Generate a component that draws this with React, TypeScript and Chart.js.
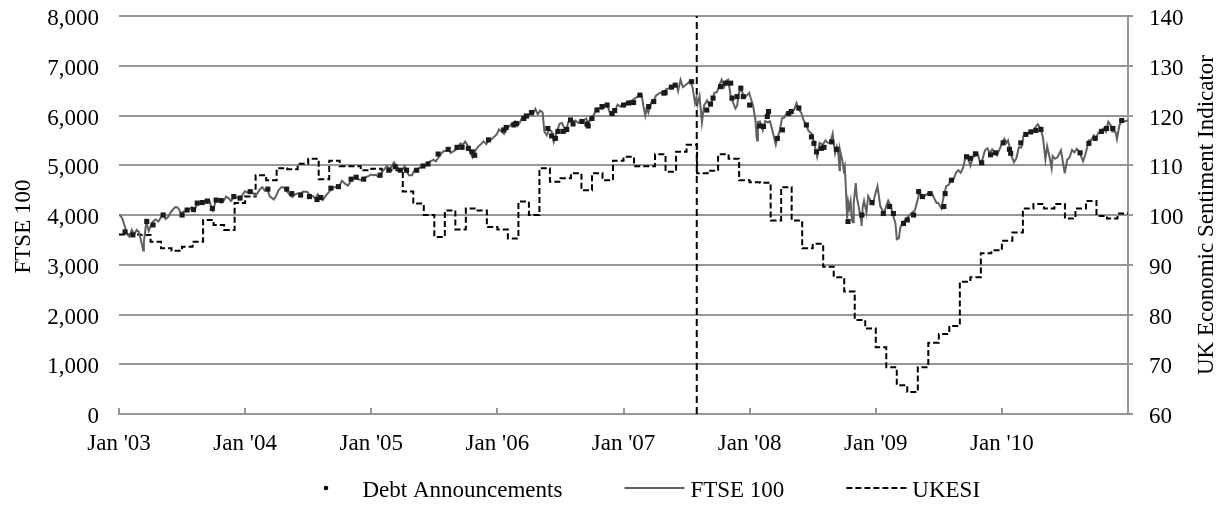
import React, { useEffect, useRef } from "react";
import { Chart, registerables } from "chart.js";

Chart.register(...registerables);

// ---------- data ----------
const xTickYears = [2003, 2004, 2005, 2006, 2007, 2008, 2009, 2010, 2011];
const leftTicks = [0, 1000, 2000, 3000, 4000, 5000, 6000, 7000, 8000];
const rightTicks = [60, 70, 80, 90, 100, 110, 120, 130, 140];

const leftTitle = "FTSE 100";
const rightTitle = "UK Economic Sentiment Indicator";
const legendLabels = ["Debt Announcements", "FTSE 100", "UKESI"];
const vertLineDate = "2007-08-01";

const ftseDates = [
  "2003-01-02","2003-01-10","2003-01-17","2003-01-24","2003-01-31","2003-02-07","2003-02-14","2003-02-21","2003-02-28","2003-03-07","2003-03-12","2003-03-14","2003-03-21","2003-03-28","2003-04-04","2003-04-11","2003-04-17","2003-04-25","2003-05-02","2003-05-09","2003-05-16","2003-05-23","2003-05-30","2003-06-06","2003-06-13","2003-06-20","2003-06-30","2003-07-07","2003-07-15","2003-07-23","2003-07-31","2003-08-08","2003-08-15","2003-08-22","2003-08-29","2003-09-05","2003-09-12","2003-09-19","2003-09-26","2003-09-30","2003-10-07","2003-10-15","2003-10-24","2003-10-31","2003-11-07","2003-11-14","2003-11-21","2003-11-28","2003-12-05","2003-12-15","2003-12-24","2003-12-31",
  "2004-01-09","2004-01-16","2004-01-23","2004-01-30","2004-02-06","2004-02-13","2004-02-20","2004-02-27","2004-03-05","2004-03-12","2004-03-24","2004-03-31","2004-04-07","2004-04-16","2004-04-23","2004-04-30","2004-05-10","2004-05-17","2004-05-24","2004-05-31","2004-06-09","2004-06-18","2004-06-30","2004-07-09","2004-07-16","2004-07-23","2004-07-30","2004-08-06","2004-08-13","2004-08-20","2004-08-31","2004-09-10","2004-09-17","2004-09-30","2004-10-08","2004-10-15","2004-10-25","2004-10-29","2004-11-05","2004-11-12","2004-11-19","2004-11-30","2004-12-07","2004-12-15","2004-12-24","2004-12-31",
  "2005-01-07","2005-01-14","2005-01-21","2005-01-31","2005-02-07","2005-02-15","2005-02-22","2005-02-28","2005-03-08","2005-03-15","2005-03-23","2005-03-31","2005-04-08","2005-04-15","2005-04-20","2005-04-29","2005-05-06","2005-05-13","2005-05-20","2005-05-31","2005-06-08","2005-06-15","2005-06-22","2005-06-30","2005-07-07","2005-07-15","2005-07-22","2005-07-29","2005-08-05","2005-08-12","2005-08-19","2005-08-31","2005-09-09","2005-09-16","2005-09-23","2005-09-30","2005-10-07","2005-10-14","2005-10-21","2005-10-31","2005-11-07","2005-11-14","2005-11-22","2005-11-30","2005-12-07","2005-12-15","2005-12-22","2005-12-30",
  "2006-01-06","2006-01-13","2006-01-20","2006-01-31","2006-02-07","2006-02-14","2006-02-21","2006-02-28","2006-03-07","2006-03-14","2006-03-21","2006-03-31","2006-04-07","2006-04-13","2006-04-21","2006-04-28","2006-05-05","2006-05-12","2006-05-17","2006-05-24","2006-05-31","2006-06-07","2006-06-13","2006-06-20","2006-06-30","2006-07-07","2006-07-18","2006-07-25","2006-07-31","2006-08-08","2006-08-15","2006-08-23","2006-08-31","2006-09-08","2006-09-15","2006-09-22","2006-09-29","2006-10-06","2006-10-13","2006-10-20","2006-10-31","2006-11-07","2006-11-14","2006-11-24","2006-11-30","2006-12-08","2006-12-15","2006-12-22","2006-12-29",
  "2007-01-05","2007-01-12","2007-01-19","2007-01-26","2007-02-02","2007-02-09","2007-02-16","2007-02-23","2007-02-28","2007-03-05","2007-03-09","2007-03-14","2007-03-23","2007-03-30","2007-04-05","2007-04-13","2007-04-20","2007-04-30","2007-05-04","2007-05-11","2007-05-18","2007-05-25","2007-05-31","2007-06-05","2007-06-08","2007-06-15","2007-06-22","2007-06-29","2007-07-06","2007-07-13","2007-07-20","2007-07-27","2007-07-31","2007-08-03","2007-08-09","2007-08-16","2007-08-22","2007-08-31","2007-09-07","2007-09-14","2007-09-21","2007-09-28","2007-10-05","2007-10-12","2007-10-19","2007-10-26","2007-10-31","2007-11-07","2007-11-12","2007-11-21","2007-11-26","2007-11-30","2007-12-07","2007-12-14","2007-12-21","2007-12-31",
  "2008-01-04","2008-01-11","2008-01-18","2008-01-21","2008-01-23","2008-01-25","2008-01-31","2008-02-08","2008-02-15","2008-02-22","2008-02-29","2008-03-07","2008-03-17","2008-03-20","2008-03-28","2008-04-04","2008-04-11","2008-04-18","2008-04-30","2008-05-09","2008-05-16","2008-05-22","2008-05-30","2008-06-06","2008-06-13","2008-06-20","2008-06-30","2008-07-08","2008-07-15","2008-07-22","2008-07-31","2008-08-08","2008-08-15","2008-08-22","2008-08-29","2008-09-05","2008-09-10","2008-09-15","2008-09-18","2008-09-19","2008-09-26","2008-09-30","2008-10-03","2008-10-06","2008-10-10","2008-10-13","2008-10-16","2008-10-20","2008-10-24","2008-10-27","2008-10-29","2008-10-31","2008-11-04","2008-11-07","2008-11-12","2008-11-20","2008-11-21","2008-11-24","2008-11-28","2008-12-05","2008-12-10","2008-12-17","2008-12-24","2008-12-31",
  "2009-01-06","2009-01-14","2009-01-20","2009-01-26","2009-01-30","2009-02-06","2009-02-13","2009-02-20","2009-02-27","2009-03-03","2009-03-09","2009-03-13","2009-03-20","2009-03-27","2009-03-31","2009-04-09","2009-04-17","2009-04-24","2009-04-30","2009-05-08","2009-05-15","2009-05-22","2009-05-29","2009-06-05","2009-06-12","2009-06-19","2009-06-26","2009-06-30","2009-07-10","2009-07-17","2009-07-24","2009-07-31","2009-08-07","2009-08-14","2009-08-21","2009-08-28","2009-09-04","2009-09-11","2009-09-18","2009-09-25","2009-10-02","2009-10-09","2009-10-16","2009-10-23","2009-10-30","2009-11-06","2009-11-13","2009-11-20","2009-11-27","2009-12-04","2009-12-11","2009-12-18","2009-12-31",
  "2010-01-08","2010-01-15","2010-01-19","2010-01-29","2010-02-05","2010-02-12","2010-02-19","2010-02-26","2010-03-05","2010-03-12","2010-03-19","2010-03-26","2010-03-31","2010-04-09","2010-04-15","2010-04-23","2010-04-30","2010-05-07","2010-05-12","2010-05-19","2010-05-25","2010-05-28","2010-06-04","2010-06-11","2010-06-21","2010-06-30","2010-07-02","2010-07-09","2010-07-16","2010-07-23","2010-07-30","2010-08-06","2010-08-13","2010-08-24","2010-08-31","2010-09-10","2010-09-17","2010-09-24","2010-09-30","2010-10-08","2010-10-15","2010-10-22","2010-10-29","2010-11-05","2010-11-12","2010-11-16","2010-11-26","2010-11-30","2010-12-07","2010-12-14","2010-12-21","2010-12-31"
];

const ftseValues = [
  4009,3940,3790,3620,3567,3700,3610,3700,3656,3450,3287,3460,3860,3680,3800,3880,3910,3870,3950,4010,3920,3960,4048,4110,4160,4150,4031,4070,4080,4110,4157,4080,4230,4240,4230,4260,4240,4300,4150,4091,4260,4300,4250,4287,4370,4340,4280,4342,4360,4330,4400,4477,
  4450,4480,4450,4390,4440,4520,4560,4492,4530,4380,4310,4386,4500,4560,4550,4489,4400,4360,4410,4431,4430,4470,4464,4370,4380,4330,4413,4340,4300,4370,4459,4540,4560,4571,4690,4640,4590,4624,4720,4750,4730,4703,4730,4760,4780,4814,
  4800,4810,4770,4852,4910,4990,4920,4969,5060,4990,4900,4894,4980,4860,4800,4801,4900,4870,4950,4964,5000,5060,5080,5113,5080,5160,5230,5282,5290,5320,5250,5297,5350,5440,5410,5478,5400,5260,5160,5317,5380,5420,5480,5423,5510,5520,5570,5619,
  5720,5680,5630,5760,5800,5850,5880,5792,5860,5960,6000,5965,6050,6010,6132,6023,6100,6060,5675,5600,5724,5680,5467,5620,5833,5850,5680,5860,5928,5880,5900,5850,5906,5900,5940,5840,5961,6000,6100,6150,6129,6190,6230,6020,6049,6100,6220,6180,6221,
  6240,6240,6290,6300,6340,6370,6420,6400,6172,6000,6150,6060,6280,6308,6400,6440,6460,6449,6530,6540,6580,6560,6621,6580,6490,6716,6570,6608,6650,6700,6560,6250,6360,6220,6390,5859,6200,6303,6200,6290,6460,6467,6600,6720,6570,6700,6722,6400,6300,6140,6200,6432,6550,6400,6380,6457,
  6350,6200,5900,5580,5500,5870,5880,5700,5890,5860,5884,5700,5414,5500,5690,5940,5960,6060,6087,6110,6250,6130,6053,5900,5800,5690,5626,5400,5171,5450,5412,5500,5450,5450,5636,5240,5370,5200,4900,5311,5090,4902,4980,4589,3932,4256,4130,4280,3884,3852,4242,4377,4640,4365,4180,3874,3781,4152,4288,4050,4380,4290,4220,4434,
  4580,4180,4090,4050,4149,4290,4190,4000,3830,3512,3530,3750,3840,3900,3926,4000,4050,4090,4244,4460,4350,4380,4418,4440,4440,4340,4240,4249,4130,4390,4580,4608,4700,4710,4850,4900,4850,4950,5190,5140,4990,5160,5190,5240,5045,5120,5300,5340,5240,5320,5260,5200,5413,
  5530,5455,5500,5189,5060,5140,5360,5355,5600,5600,5650,5700,5680,5770,5825,5740,5553,5120,5380,5160,4940,5188,5130,5160,5300,4917,4838,5110,5160,5310,5258,5330,5275,5080,5225,5500,5510,5600,5549,5660,5700,5740,5675,5875,5800,5680,5668,5528,5800,5890,5880,5900
];

// Debt announcement dates (fractional years) and FTSE level at announcement
const debtDates = [
  2003.048,2003.11,2003.22,2003.27,2003.35,2003.50,2003.54,2003.59,2003.62,2003.66,2003.70,2003.74,2003.77,2003.81,2003.91,2003.96,
  2004.04,2004.18,2004.33,2004.37,2004.44,2004.51,2004.57,2004.60,2004.68,2004.74,2004.84,2004.88,2004.94,
  2005.07,2005.14,2005.19,2005.23,2005.28,2005.36,2005.41,2005.45,2005.53,2005.61,2005.68,2005.72,2005.77,2005.80,2005.82,2005.93,
  2006.05,2006.07,2006.13,2006.15,2006.21,2006.23,2006.27,2006.40,2006.43,2006.46,2006.48,2006.52,2006.55,2006.58,2006.60,2006.67,2006.71,2006.72,2006.75,2006.79,2006.83,2006.87,2006.91,2006.93,
  2007.00,2007.04,2007.08,2007.13,2007.20,2007.24,2007.32,2007.33,2007.38,2007.41,2007.54,2007.66,2007.69,2007.71,2007.77,2007.81,2007.85,2007.86,2007.90,2007.93,2007.95,
  2008.00,2008.08,2008.11,2008.14,2008.15,2008.22,2008.26,2008.31,2008.33,2008.39,2008.45,2008.49,2008.51,2008.53,2008.57,2008.59,2008.65,2008.69,2008.78,2008.89,2008.97,
  2009.06,2009.11,2009.14,2009.22,2009.25,2009.30,2009.34,2009.37,2009.43,2009.54,2009.55,2009.60,2009.72,2009.75,2009.79,2009.84,2009.91,2009.95,
  2010.01,2010.06,2010.07,2010.15,2010.19,2010.23,2010.27,2010.31,2010.62,2010.69,2010.74,2010.79,2010.83,2010.88,2010.95
];
const debtValues = [
  3660,3600,3870,3800,4000,4000,4100,4110,4240,4250,4280,4130,4300,4290,4370,4340,
  4470,4520,4520,4430,4400,4370,4310,4350,4540,4570,4720,4760,4720,
  4800,4900,4970,4900,4900,4900,4985,5025,5225,5320,5360,5360,5340,5270,5200,5510,
  5710,5760,5810,5840,5940,5990,6060,5740,5590,5540,5680,5680,5720,5910,5830,5880,5830,5790,5940,6110,6180,6210,6040,6100,
  6210,6250,6260,6410,6180,6280,6450,6460,6570,6610,6680,6110,6230,6350,6580,6650,6650,6350,6380,6550,6380,
  6210,5790,5780,5980,6080,5540,5710,6040,6080,6150,5810,5570,5440,5270,5340,5360,5470,5320,3870,4000,4250,
  4030,4170,4030,3830,3900,4000,4470,4370,4430,4170,4430,4700,5170,5140,5230,5050,5210,5250,
  5450,5320,5240,5450,5620,5670,5700,5720,5250,5440,5540,5680,5740,5740,5900
];

// UK Economic Sentiment Indicator, monthly from January 2003
const ukesiStartYear = 2003;
const ukesiValues = [
  96.1, 96.1, 96.0, 94.6, 93.3, 92.8, 93.6, 94.6, 99.0, 98.0, 97.0, 102.4,
  103.7, 108.0, 107.0, 109.4, 109.2, 110.3, 111.3, 107.2, 110.9, 109.8, 109.8, 109.0,
  109.3, 109.0, 109.0, 104.7, 102.3, 100.0, 95.6, 100.9, 97.1, 101.3, 100.9, 97.6,
  97.1, 95.3, 102.7, 100.0, 109.4, 106.7, 107.4, 108.4, 105.0, 108.4, 107.0, 110.9,
  111.7, 109.8, 109.8, 112.2, 108.7, 112.7, 114.1, 108.4, 108.9, 112.2, 111.3, 107.0,
  106.6, 106.5, 98.9, 105.6, 98.9, 93.3, 94.2, 89.6, 87.5, 84.6, 78.9, 77.2,
  73.4, 69.4, 65.8, 64.4, 69.4, 74.3, 76.1, 77.7, 86.6, 87.5, 92.3, 92.9,
  94.8, 96.5, 101.3, 102.2, 101.3, 102.2, 99.3, 101.3, 102.8, 99.8, 99.3, 100.3
];

// ---------- helpers ----------
function toYear(d: string): number {
  const [y, m, day] = d.split("-").map(Number);
  const start = Date.UTC(y, 0, 1);
  const end = Date.UTC(y + 1, 0, 1);
  return y + (Date.UTC(y, m - 1, day) - start) / (end - start);
}

const FONT_FAMILY = '"Liberation Serif", "Times New Roman", serif';
const FONT_SIZE = 23;
const GRID = "#969696";

function legendImage(kind: "dot" | "line" | "dash"): HTMLCanvasElement {
  const c = document.createElement("canvas");
  c.width = 120;
  c.height = 20;
  const g = c.getContext("2d")!;
  if (kind === "dot") {
    g.fillStyle = "#000";
    g.beginPath();
    g.arc(88, 7, 2.3, 0, Math.PI * 2);
    g.fill();
  } else {
    g.strokeStyle = kind === "line" ? "#606060" : "#000";
    g.lineWidth = 2;
    if (kind === "dash") g.setLineDash([6, 3]);
    g.beginPath();
    g.moveTo(58.5, 7);
    g.lineTo(118.5, 7);
    g.stroke();
  }
  return c;
}

const titlesPlugin = {
  id: "axisTitles",
  afterDraw(chart: any) {
    const { ctx, chartArea } = chart;
    const yL = chart.scales.y;
    const yR = chart.scales.y1;
    const midY = (chartArea.top + chartArea.bottom) / 2;
    ctx.save();
    ctx.font = `${FONT_SIZE}px ${FONT_FAMILY}`;
    ctx.fillStyle = "#000";
    ctx.textAlign = "center";
    ctx.textBaseline = "middle";
    ctx.save();
    ctx.translate(yL.left + 24, midY + 11.5);
    ctx.rotate(-Math.PI / 2);
    ctx.fillText(leftTitle, 0, 0);
    ctx.restore();
    ctx.save();
    ctx.translate(yR.right - 18, midY);
    ctx.rotate(-Math.PI / 2);
    ctx.fillText(rightTitle, 0, 0);
    ctx.restore();
    ctx.restore();
  },
};

export default function App() {
  const ref = useRef<HTMLCanvasElement>(null);

  useEffect(() => {
    document.body.style.margin = "0";
    const font = { family: FONT_FAMILY, size: FONT_SIZE };
    const ftseData = ftseDates.map((d, i) => ({ x: toYear(d), y: ftseValues[i] }));
    const debtData = debtDates.map((d, i) => ({ x: d, y: debtValues[i] }));
    const ukesiData = ukesiValues.map((v, i) => ({ x: ukesiStartYear + i / 12, y: v }));
    ukesiData.push({ x: ukesiStartYear + ukesiValues.length / 12, y: ukesiValues[ukesiValues.length - 1] });
    const vx = toYear(vertLineDate);
    const vertData = [
      { x: vx, y: leftTicks[0] },
      { x: vx, y: leftTicks[leftTicks.length - 1] },
    ];
    const imgs = [legendImage("dot"), legendImage("line"), legendImage("dash")];

    const chart = new Chart(ref.current!, {
      type: "line",
      data: {
        datasets: [
          {
            label: legendLabels[0],
            data: debtData,
            showLine: false,
            pointStyle: "rect",
            pointRadius: 3.6,
            pointBackgroundColor: "#1a1a1a",
            pointBorderWidth: 0,
            yAxisID: "y",
          },
          {
            label: legendLabels[1],
            data: ftseData,
            borderColor: "#606060",
            borderWidth: 2,
            pointRadius: 0,
            tension: 0,
            yAxisID: "y",
          },
          {
            label: legendLabels[2],
            data: ukesiData,
            borderColor: "#000",
            borderWidth: 2,
            borderDash: [6, 3],
            stepped: true,
            pointRadius: 0,
            yAxisID: "y1",
          },
          {
            label: "vline",
            data: vertData,
            borderColor: "#000",
            borderWidth: 2,
            borderDash: [7, 4],
            pointRadius: 0,
            yAxisID: "y",
          },
        ] as any,
      },
      options: {
        animation: false,
        responsive: false,
        devicePixelRatio: 1,
        events: [],
        layout: { padding: { left: 0, right: 0, top: 16, bottom: -4.5 } },
        plugins: {
          tooltip: { enabled: false },
          legend: {
            position: "bottom",
            labels: {
              usePointStyle: true,
              pointStyleWidth: 106,
              padding: 10.5,
              font,
              color: "#000",
              generateLabels: () =>
                legendLabels.map((text, i) => ({
                  text,
                  pointStyle: imgs[i],
                  fillStyle: "rgba(0,0,0,0)",
                  strokeStyle: "rgba(0,0,0,0)",
                  lineWidth: 0,
                  hidden: false,
                  datasetIndex: i,
                  fontColor: "#000",
                })) as any,
            },
          },
        },
        scales: {
          x: {
            type: "linear",
            min: xTickYears[0],
            max: xTickYears[xTickYears.length - 1],
            afterBuildTicks: (s: any) => {
              s.ticks = xTickYears.map((v) => ({ value: v }));
            },
            afterFit: (s: any) => {
              s.height = 55;
              s.paddingLeft = 0;
              s.paddingRight = 0;
            },
            ticks: {
              autoSkip: false,
              maxRotation: 0,
              padding: 22.6,
              font,
              color: "#000",
              callback: (v: any) =>
                v < xTickYears[xTickYears.length - 1] ? "Jan '" + String(v).slice(2) : "",
            },
            grid: { drawOnChartArea: false, drawTicks: true, tickLength: -6, color: GRID, lineWidth: 2 },
            border: { display: true, color: GRID, width: 2 },
          },
          y: {
            type: "linear",
            position: "left",
            min: leftTicks[0],
            max: leftTicks[leftTicks.length - 1],
            afterBuildTicks: (s: any) => {
              s.ticks = leftTicks.map((v) => ({ value: v }));
            },
            afterFit: (s: any) => {
              s.width = 119;
              s.paddingTop = 0;
              s.paddingBottom = 0;
            },
            ticks: {
              padding: 20,
              labelOffset: 3,
              font,
              color: "#000",
              callback: (v: any) => Number(v).toLocaleString("en-US"),
            },
            grid: { drawTicks: false, color: GRID, lineWidth: 2 },
            border: { display: false },
          },
          y1: {
            type: "linear",
            position: "right",
            min: rightTicks[0],
            max: rightTicks[rightTicks.length - 1],
            afterBuildTicks: (s: any) => {
              s.ticks = rightTicks.map((v) => ({ value: v }));
            },
            afterFit: (s: any) => {
              s.width = 97;
              s.paddingTop = 0;
              s.paddingBottom = 0;
            },
            ticks: { padding: 16, labelOffset: 3, font, color: "#000" },
            grid: { drawOnChartArea: false, drawTicks: true, tickLength: 5, color: GRID, lineWidth: 2 },
            border: { display: true, color: GRID, width: 2 },
          },
        },
      } as any,
      plugins: [titlesPlugin],
    });
    return () => chart.destroy();
  }, []);

  return (
    <div style={{ width: 1225, height: 508 }}>
      <canvas ref={ref} width={1225} height={508} style={{ display: "block" }} />
    </div>
  );
}
